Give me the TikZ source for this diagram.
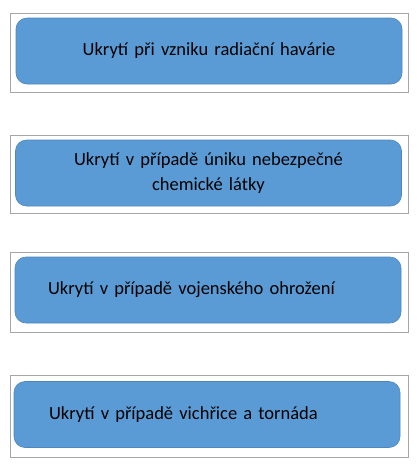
\documentclass[tikz,border=0pt]{standalone}
\usepackage{fontspec}
\setmainfont{Carlito}
\definecolor{boxblue}{HTML}{5B9BD5}
\definecolor{boxedge}{HTML}{4F87BD}
\definecolor{framegray}{HTML}{A6A6A6}
\tikzset{
    frame/.style={draw=framegray, line width=1pt},
    shelter/.style={draw=boxedge, fill=boxblue, line width=0.6pt, rounded corners=11pt,
        minimum width=386pt, minimum height=66pt, text=black,
        font=\fontsize{18.5}{24.5}\selectfont},
    centred/.style={shelter, text width=366pt, inner xsep=10pt, align=center},
    lefted/.style={shelter, text width=320pt, inner xsep=33pt, align=left}
}
\begin{document}
\begin{tikzpicture}[x=1pt, y=-1pt]
        \useasboundingbox (0, 0) rectangle (417, 469);

        % Frames
        \draw[frame] (10, 13) rectangle (408, 92);
        \draw[frame] (10, 135) rectangle (408, 213);
        \draw[frame] (10, 252) rectangle (408, 332);
        \draw[frame] (10, 375) rectangle (408, 457);

        % Radiation
        \node[centred] (radiace) at (209, 51) {Ukrytí při vzniku radiační havárie};
        % Chemical
        \node[centred] (chemie) at (208.5, 173) {Ukrytí v případě úniku nebezpečné\\chemické látky};
        % Military
        \node[lefted] (valka) at (208, 290) {Ukrytí v případě vojenského ohrožení};
        % Storm
        \node[lefted, inner xsep=35pt, text width=316pt] (vichr) at (207, 414.5) {Ukrytí v případě vichřice a tornáda};

    \end{tikzpicture}
\end{document}
